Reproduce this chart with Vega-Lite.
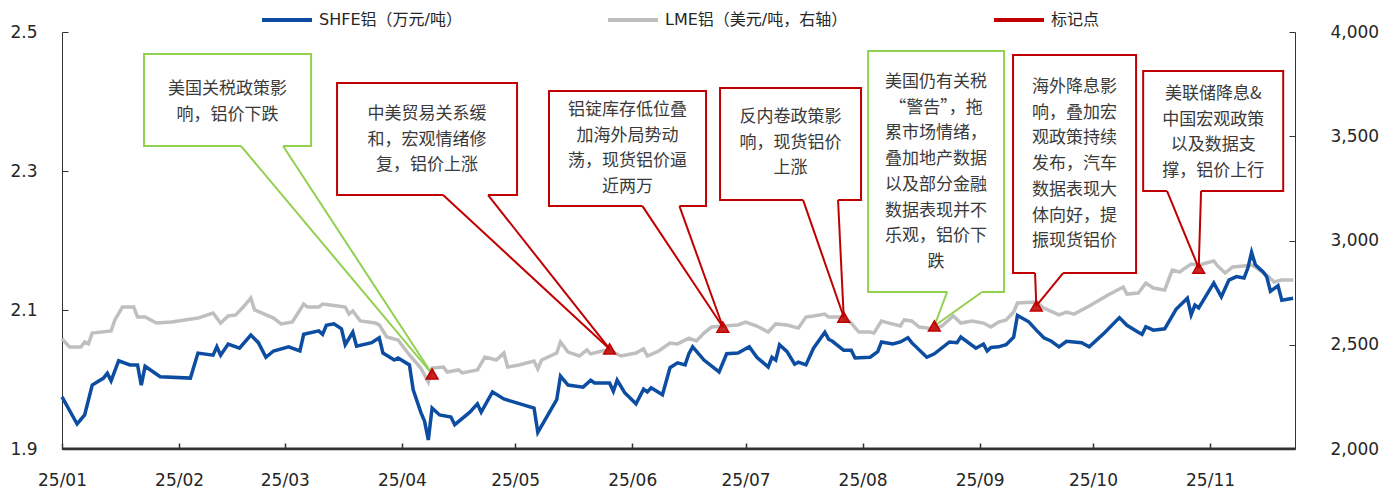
{
"$schema":"https://vega.github.io/schema/vega-lite/v6.json",
"width":1233,"height":417,
"autosize":{"type":"none"},
"padding":{"left":62,"top":32,"right":84,"bottom":41},
"background":"white",
"config":{"view":{"stroke":null},"axis":{"grid":false,"domain":true,"ticks":true,"domainColor":"#333333","tickColor":"#333333","labelColor":"#262626","labelFont":"DejaVu Sans","labelFontSize":17,"tickSize":-6,"zindex":1}},
"datasets":{
"shfe":[
{"d":"2025-01-01","v":1.975},{"d":"2025-01-05","v":1.936},{"d":"2025-01-07","v":1.949},{"d":"2025-01-09","v":1.992},{"d":"2025-01-12","v":2.002},{"d":"2025-01-13","v":2.009},{"d":"2025-01-14","v":1.998},{"d":"2025-01-16","v":2.027},{"d":"2025-01-19","v":2.021},{"d":"2025-01-21","v":2.021},{"d":"2025-01-22","v":1.992},{"d":"2025-01-23","v":2.019},{"d":"2025-01-27","v":2.004},{"d":"2025-02-04","v":2.002},{"d":"2025-02-06","v":2.038},{"d":"2025-02-10","v":2.035},{"d":"2025-02-11","v":2.047},{"d":"2025-02-12","v":2.035},{"d":"2025-02-14","v":2.051},{"d":"2025-02-17","v":2.045},{"d":"2025-02-20","v":2.064},{"d":"2025-02-22","v":2.053},{"d":"2025-02-24","v":2.032},{"d":"2025-02-26","v":2.041},{"d":"2025-03-02","v":2.047},{"d":"2025-03-05","v":2.041},{"d":"2025-03-06","v":2.065},{"d":"2025-03-10","v":2.070},{"d":"2025-03-11","v":2.065},{"d":"2025-03-12","v":2.078},{"d":"2025-03-14","v":2.080},{"d":"2025-03-16","v":2.073},{"d":"2025-03-17","v":2.050},{"d":"2025-03-19","v":2.068},{"d":"2025-03-20","v":2.048},{"d":"2025-03-24","v":2.053},{"d":"2025-03-26","v":2.060},{"d":"2025-03-27","v":2.038},{"d":"2025-03-30","v":2.028},{"d":"2025-03-31","v":2.031},{"d":"2025-04-03","v":2.021},{"d":"2025-04-04","v":1.985},{"d":"2025-04-06","v":1.953},{"d":"2025-04-07","v":1.940},{"d":"2025-04-08","v":1.913},{"d":"2025-04-09","v":1.959},{"d":"2025-04-11","v":1.949},{"d":"2025-04-14","v":1.946},{"d":"2025-04-15","v":1.935},{"d":"2025-04-19","v":1.953},{"d":"2025-04-21","v":1.965},{"d":"2025-04-22","v":1.953},{"d":"2025-04-25","v":1.982},{"d":"2025-04-28","v":1.972},{"d":"2025-05-06","v":1.959},{"d":"2025-05-07","v":1.924},{"d":"2025-05-12","v":1.971},{"d":"2025-05-13","v":2.005},{"d":"2025-05-15","v":1.992},{"d":"2025-05-19","v":1.989},{"d":"2025-05-21","v":1.999},{"d":"2025-05-22","v":1.995},{"d":"2025-05-26","v":1.995},{"d":"2025-05-27","v":1.983},{"d":"2025-05-28","v":1.999},{"d":"2025-05-30","v":1.981},{"d":"2025-06-02","v":1.965},{"d":"2025-06-04","v":1.986},{"d":"2025-06-05","v":1.982},{"d":"2025-06-06","v":1.988},{"d":"2025-06-09","v":1.978},{"d":"2025-06-11","v":2.017},{"d":"2025-06-13","v":2.024},{"d":"2025-06-15","v":2.021},{"d":"2025-06-16","v":2.037},{"d":"2025-06-17","v":2.047},{"d":"2025-06-20","v":2.028},{"d":"2025-06-24","v":2.011},{"d":"2025-06-26","v":2.037},{"d":"2025-06-29","v":2.038},{"d":"2025-07-02","v":2.047},{"d":"2025-07-04","v":2.032},{"d":"2025-07-07","v":2.018},{"d":"2025-07-08","v":2.032},{"d":"2025-07-09","v":2.028},{"d":"2025-07-10","v":2.050},{"d":"2025-07-12","v":2.040},{"d":"2025-07-14","v":2.022},{"d":"2025-07-15","v":2.025},{"d":"2025-07-17","v":2.021},{"d":"2025-07-19","v":2.045},{"d":"2025-07-22","v":2.068},{"d":"2025-07-23","v":2.058},{"d":"2025-07-24","v":2.055},{"d":"2025-07-27","v":2.042},{"d":"2025-07-29","v":2.042},{"d":"2025-07-30","v":2.031},{"d":"2025-08-03","v":2.032},{"d":"2025-08-05","v":2.040},{"d":"2025-08-06","v":2.054},{"d":"2025-08-09","v":2.051},{"d":"2025-08-11","v":2.054},{"d":"2025-08-13","v":2.060},{"d":"2025-08-14","v":2.053},{"d":"2025-08-18","v":2.032},{"d":"2025-08-20","v":2.037},{"d":"2025-08-24","v":2.054},{"d":"2025-08-26","v":2.053},{"d":"2025-08-27","v":2.061},{"d":"2025-08-31","v":2.045},{"d":"2025-09-02","v":2.051},{"d":"2025-09-03","v":2.041},{"d":"2025-09-04","v":2.046},{"d":"2025-09-06","v":2.047},{"d":"2025-09-08","v":2.050},{"d":"2025-09-10","v":2.061},{"d":"2025-09-11","v":2.092},{"d":"2025-09-14","v":2.083},{"d":"2025-09-16","v":2.071},{"d":"2025-09-18","v":2.060},{"d":"2025-09-20","v":2.055},{"d":"2025-09-22","v":2.047},{"d":"2025-09-24","v":2.055},{"d":"2025-09-28","v":2.053},{"d":"2025-09-30","v":2.047},{"d":"2025-10-04","v":2.067},{"d":"2025-10-08","v":2.089},{"d":"2025-10-10","v":2.078},{"d":"2025-10-13","v":2.068},{"d":"2025-10-14","v":2.065},{"d":"2025-10-15","v":2.076},{"d":"2025-10-17","v":2.071},{"d":"2025-10-20","v":2.073},{"d":"2025-10-23","v":2.101},{"d":"2025-10-26","v":2.117},{"d":"2025-10-27","v":2.093},{"d":"2025-10-28","v":2.107},{"d":"2025-10-29","v":2.103},{"d":"2025-11-02","v":2.139},{"d":"2025-11-04","v":2.119},{"d":"2025-11-06","v":2.143},{"d":"2025-11-08","v":2.148},{"d":"2025-11-10","v":2.146},{"d":"2025-11-11","v":2.160},{"d":"2025-11-12","v":2.183},{"d":"2025-11-13","v":2.165},{"d":"2025-11-15","v":2.155},{"d":"2025-11-16","v":2.148},{"d":"2025-11-17","v":2.127},{"d":"2025-11-19","v":2.135},{"d":"2025-11-20","v":2.114},{"d":"2025-11-23","v":2.117}
],
"lme":[
{"d":"2025-01-01","v":2528},{"d":"2025-01-03","v":2489},{"d":"2025-01-06","v":2489},{"d":"2025-01-07","v":2513},{"d":"2025-01-08","v":2504},{"d":"2025-01-09","v":2556},{"d":"2025-01-14","v":2566},{"d":"2025-01-15","v":2619},{"d":"2025-01-17","v":2681},{"d":"2025-01-20","v":2681},{"d":"2025-01-21","v":2633},{"d":"2025-01-23","v":2633},{"d":"2025-01-26","v":2604},{"d":"2025-01-30","v":2609},{"d":"2025-02-06","v":2628},{"d":"2025-02-10","v":2652},{"d":"2025-02-12","v":2604},{"d":"2025-02-14","v":2638},{"d":"2025-02-16","v":2643},{"d":"2025-02-18","v":2681},{"d":"2025-02-20","v":2724},{"d":"2025-02-21","v":2667},{"d":"2025-02-23","v":2652},{"d":"2025-02-26","v":2628},{"d":"2025-02-28","v":2600},{"d":"2025-03-03","v":2609},{"d":"2025-03-06","v":2695},{"d":"2025-03-07","v":2681},{"d":"2025-03-10","v":2681},{"d":"2025-03-11","v":2695},{"d":"2025-03-13","v":2691},{"d":"2025-03-15","v":2686},{"d":"2025-03-17","v":2681},{"d":"2025-03-18","v":2647},{"d":"2025-03-19","v":2662},{"d":"2025-03-21","v":2614},{"d":"2025-03-25","v":2604},{"d":"2025-03-26","v":2595},{"d":"2025-03-28","v":2537},{"d":"2025-03-31","v":2523},{"d":"2025-04-03","v":2451},{"d":"2025-04-06","v":2388},{"d":"2025-04-07","v":2355},{"d":"2025-04-08","v":2321},{"d":"2025-04-09","v":2388},{"d":"2025-04-12","v":2393},{"d":"2025-04-13","v":2369},{"d":"2025-04-16","v":2379},{"d":"2025-04-17","v":2365},{"d":"2025-04-21","v":2379},{"d":"2025-04-23","v":2441},{"d":"2025-04-26","v":2427},{"d":"2025-04-28","v":2460},{"d":"2025-04-29","v":2393},{"d":"2025-05-02","v":2403},{"d":"2025-05-06","v":2422},{"d":"2025-05-07","v":2384},{"d":"2025-05-08","v":2427},{"d":"2025-05-12","v":2460},{"d":"2025-05-13","v":2513},{"d":"2025-05-15","v":2465},{"d":"2025-05-18","v":2446},{"d":"2025-05-20","v":2475},{"d":"2025-05-21","v":2456},{"d":"2025-05-24","v":2470},{"d":"2025-05-26","v":2475},{"d":"2025-05-29","v":2446},{"d":"2025-06-02","v":2460},{"d":"2025-06-04","v":2480},{"d":"2025-06-05","v":2446},{"d":"2025-06-08","v":2470},{"d":"2025-06-11","v":2508},{"d":"2025-06-13","v":2504},{"d":"2025-06-16","v":2532},{"d":"2025-06-18","v":2518},{"d":"2025-06-20","v":2556},{"d":"2025-06-22","v":2585},{"d":"2025-06-25","v":2590},{"d":"2025-06-29","v":2595},{"d":"2025-07-01","v":2609},{"d":"2025-07-04","v":2590},{"d":"2025-07-07","v":2561},{"d":"2025-07-09","v":2600},{"d":"2025-07-12","v":2595},{"d":"2025-07-15","v":2580},{"d":"2025-07-17","v":2633},{"d":"2025-07-19","v":2638},{"d":"2025-07-22","v":2647},{"d":"2025-07-23","v":2633},{"d":"2025-07-26","v":2633},{"d":"2025-07-27","v":2628},{"d":"2025-07-29","v":2604},{"d":"2025-07-31","v":2561},{"d":"2025-08-03","v":2561},{"d":"2025-08-04","v":2556},{"d":"2025-08-06","v":2614},{"d":"2025-08-08","v":2604},{"d":"2025-08-11","v":2590},{"d":"2025-08-12","v":2619},{"d":"2025-08-14","v":2614},{"d":"2025-08-16","v":2585},{"d":"2025-08-20","v":2576},{"d":"2025-08-22","v":2590},{"d":"2025-08-25","v":2638},{"d":"2025-08-27","v":2604},{"d":"2025-08-30","v":2614},{"d":"2025-09-02","v":2604},{"d":"2025-09-04","v":2585},{"d":"2025-09-06","v":2609},{"d":"2025-09-08","v":2619},{"d":"2025-09-10","v":2657},{"d":"2025-09-11","v":2700},{"d":"2025-09-16","v":2705},{"d":"2025-09-18","v":2676},{"d":"2025-09-22","v":2643},{"d":"2025-09-24","v":2657},{"d":"2025-09-26","v":2647},{"d":"2025-09-30","v":2686},{"d":"2025-10-05","v":2739},{"d":"2025-10-09","v":2777},{"d":"2025-10-10","v":2743},{"d":"2025-10-13","v":2748},{"d":"2025-10-15","v":2796},{"d":"2025-10-17","v":2772},{"d":"2025-10-20","v":2763},{"d":"2025-10-22","v":2858},{"d":"2025-10-24","v":2849},{"d":"2025-10-25","v":2863},{"d":"2025-10-27","v":2887},{"d":"2025-10-29","v":2882},{"d":"2025-10-31","v":2892},{"d":"2025-11-02","v":2902},{"d":"2025-11-03","v":2878},{"d":"2025-11-05","v":2844},{"d":"2025-11-07","v":2873},{"d":"2025-11-10","v":2878},{"d":"2025-11-12","v":2882},{"d":"2025-11-13","v":2873},{"d":"2025-11-16","v":2834},{"d":"2025-11-18","v":2801},{"d":"2025-11-20","v":2811},{"d":"2025-11-23","v":2811}
],
"ann":[
{"dir":"下跌","x1":"2025-01-22T17:00","x2":"2025-03-07T23:00","top":3894,"bot":3453,"tx":"2025-02-13T20:00","ty":3727,"b1":"2025-02-17T10:00","b2":"2025-02-28T13:00","px":"2025-04-09T00:00","py":2360,"t":"美国关税政策影\n响，铝价下跌"},
{"dir":"上涨","x1":"2025-03-14T20:00","x2":"2025-05-01T12:00","top":3755,"bot":3218,"tx":"2025-04-07T16:00","ty":3607,"b1":"2025-04-11T22:00","b2":"2025-04-23T20:00","px":"2025-05-26T00:00","py":2480,"t":"中美贸易关系缓\n和，宏观情绪修\n复，铝价上涨"},
{"dir":"上涨","x1":"2025-05-09T23:00","x2":"2025-06-20T13:00","top":3717,"bot":3165,"tx":"2025-05-30T18:00","ty":3626,"b1":"2025-06-03T17:00","b2":"2025-06-13T12:00","px":"2025-06-25T00:00","py":2585,"t":"铝锭库存低位叠\n加海外局势动\n荡，现货铝价逼\n近两万"},
{"dir":"上涨","x1":"2025-06-24T06:00","x2":"2025-07-31T14:00","top":3731,"bot":3194,"tx":"2025-07-12T22:00","ty":3592,"b1":"2025-07-16T06:00","b2":"2025-07-25T12:00","px":"2025-07-27T00:00","py":2633,"t":"反内卷政策影\n响，现货铝价\n上涨"},
{"dir":"下跌","x1":"2025-08-02T11:00","x2":"2025-09-07T11:00","top":3909,"bot":2753,"tx":"2025-08-20T11:00","ty":3760,"b1":"2025-08-23T09:00","b2":"2025-09-01T15:00","px":"2025-08-20T00:00","py":2590,"t":"美国仍有关税\n“警告”，拖\n累市场情绪，\n叠加地产数据\n以及部分金融\n数据表现并不\n乐观，铝价下\n跌"},
{"dir":"上涨","x1":"2025-09-09T20:00","x2":"2025-10-12T10:00","top":3890,"bot":2844,"tx":"2025-09-26T03:00","ty":3736,"b1":"2025-09-15T16:00","b2":"2025-09-23T02:00","px":"2025-09-16T00:00","py":2686,"t":"海外降息影\n响，叠加宏\n观政策持续\n发布，汽车\n数据表现大\n体向好，提\n振现货铝价"},
{"dir":"上涨","x1":"2025-10-14T07:00","x2":"2025-11-20T09:00","top":3813,"bot":3237,"tx":"2025-11-01T20:00","ty":3703,"b1":"2025-10-20T15:00","b2":"2025-10-29T15:00","px":"2025-10-29T00:00","py":2868,"t":"美联储降息&\n中国宏观政策\n以及数据支\n撑，铝价上行"}
]
},
"layer":[
{"layer":[
 {"data":{"name":"lme"},"mark":{"type":"line","strokeWidth":3.5},
  "encoding":{
   "x":{"field":"d","type":"temporal","title":null,"scale":{"domain":[{"year":2025,"month":1,"date":1},{"year":2025,"month":11,"date":23,"hours":12}],"nice":false},"axis":{"format":"%y/%m","tickCount":{"interval":"month","step":1},"labelFlush":false,"labelPadding":29,"domain":true,"ticks":true,"tickSize":-6,"tickWidth":1.5,"domainWidth":1.5,"domainColor":"#333333","tickColor":"#333333","zindex":1,"title":null}},
   "y":{"field":"v","type":"quantitative","title":null,"scale":{"domain":[2000,4000],"nice":false,"zero":false},"axis":{"orient":"right","values":[2000,2500,3000,3500,4000],"labelExpr":"format(datum.value, ',')","labelPadding":41,"labelFlush":false,"title":null}},
   "color":{"datum":"LME铝（美元/吨，右轴）","scale":{"domain":["SHFE铝（万元/吨）","LME铝（美元/吨，右轴）","标记点"],"range":["#0C4DA2","#BFBFBF","#C00000"]},
    "legend":{"title":null,"orient":"none","legendX":198,"legendY":-39,"direction":"horizontal","columns":3,"columnPadding":138,"symbolType":"stroke","symbolSize":2500,"symbolStrokeWidth":4,"labelFontSize":16,"labelLimit":500,"labelFont":"DejaVu Sans, Noto Sans CJK SC","labelColor":"#262626","labelOffset":5,"padding":0}}
  }},
 {"data":{"values":[{}]},"mark":{"type":"rule","color":"#333333","strokeWidth":1.5},
  "encoding":{"y":{"datum":2003,"type":"quantitative","title":null}}},
 {"data":{"name":"ann"},"mark":{"type":"rect","fill":"white","strokeWidth":2},
  "encoding":{
   "x":{"field":"x1","type":"temporal","title":null},
   "x2":{"field":"x2"},
   "y":{"field":"top","type":"quantitative","title":null},
   "y2":{"field":"bot"},
   "stroke":{"field":"dir","type":"nominal","scale":{"domain":["上涨","下跌"],"range":["#C00000","#92D050"]},"legend":null}
  }},
 {"data":{"name":"ann"},"mark":{"type":"rule","color":"white","strokeWidth":3.5},
  "encoding":{
   "x":{"field":"b1","type":"temporal","title":null},
   "x2":{"field":"b2"},
   "y":{"field":"bot","type":"quantitative","title":null}
  }},
 {"data":{"name":"ann"},"mark":{"type":"rule","strokeWidth":2},
  "encoding":{
   "x":{"field":"b1","type":"temporal","title":null},
   "x2":{"field":"px"},
   "y":{"field":"bot","type":"quantitative","title":null},
   "y2":{"field":"py"},
   "stroke":{"field":"dir","type":"nominal","legend":null}
  }},
 {"data":{"name":"ann"},"mark":{"type":"rule","strokeWidth":2},
  "encoding":{
   "x":{"field":"b2","type":"temporal","title":null},
   "x2":{"field":"px"},
   "y":{"field":"bot","type":"quantitative","title":null},
   "y2":{"field":"py"},
   "stroke":{"field":"dir","type":"nominal","legend":null}
  }},
 {"data":{"name":"ann"},"mark":{"type":"text","lineBreak":"\n","lineHeight":25.7,"font":"Noto Sans CJK SC","fontSize":17,"color":"#3a3a3a","align":"center","baseline":"middle"},
  "encoding":{
   "x":{"field":"tx","type":"temporal","title":null},
   "y":{"field":"ty","type":"quantitative","title":null},
   "text":{"field":"t"}
  }},
 {"data":{"name":"ann"},"mark":{"type":"point","shape":"triangle-up","filled":true,"size":140,"fillOpacity":0.85,"stroke":"#C00000","strokeWidth":1.5},
  "encoding":{
   "x":{"field":"px","type":"temporal","title":null},
   "y":{"field":"py","type":"quantitative","title":null},
   "color":{"datum":"标记点"}
  }}
]},
{"layer":[
 {"data":{"name":"shfe"},"mark":{"type":"line","strokeWidth":3.5},
  "encoding":{
   "x":{"field":"d","type":"temporal","title":null},
   "y":{"field":"v","type":"quantitative","title":null,"scale":{"domain":[1.9,2.5],"nice":false,"zero":false},"axis":{"orient":"left","values":[1.9,2.1,2.3,2.5],"format":".1f","labelPadding":31,"labelFlush":false,"title":null}},
   "color":{"datum":"SHFE铝（万元/吨）"}
  }},
 {"data":{"values":[{}]},"mark":{"type":"rule","color":"#333333","strokeWidth":1.5},
  "encoding":{"y":{"datum":1.9,"type":"quantitative","title":null}}}
]}
],
"resolve":{"scale":{"y":"independent"}}
}
